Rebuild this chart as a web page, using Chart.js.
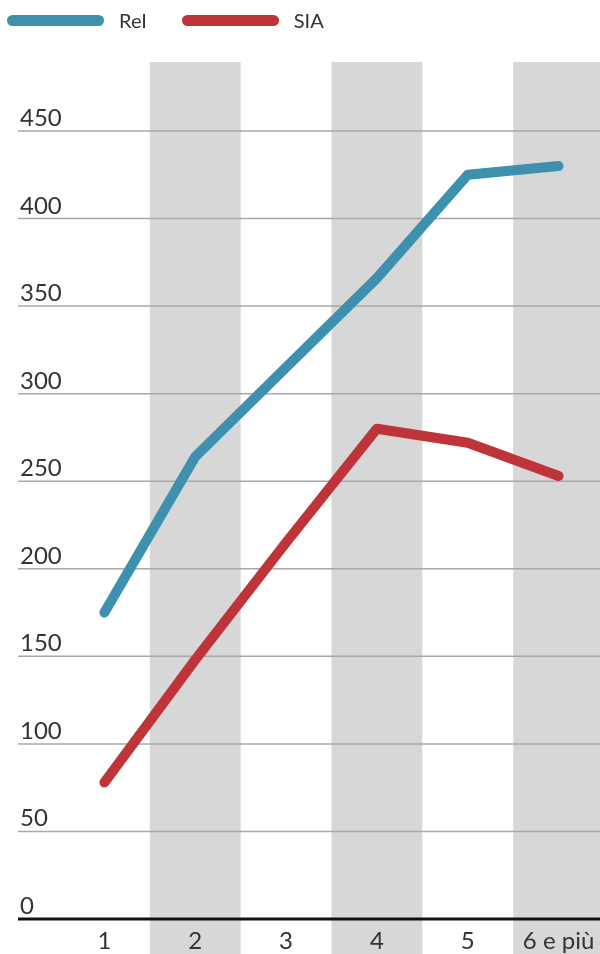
<!DOCTYPE html>
<html>
<head>
<meta charset="utf-8">
<script src="https://cdn.jsdelivr.net/npm/chart.js@4"></script>
<style>
  html, body { margin: 0; padding: 0; background: #fff; overflow: hidden; }
  #wrap { position: relative; width: 600px; height: 954px; overflow: hidden; }
  #chart { position: absolute; left: 0; top: 0; }
  #legend { position: absolute; left: 7px; top: 8px; display: flex; font-family: Lato, "Open Sans", sans-serif; font-size: 20px; color: #333; }
  #legend .item { display: flex; align-items: center; margin-right: 35px; }
  #legend .bar { width: 97px; height: 11px; border-radius: 6px; margin-right: 15px; }
</style>
</head>
<body>
<div id="wrap">
  <canvas id="chart" width="606" height="954"></canvas>
  <div id="legend"></div>
</div>
<script>
const categories = ["1", "2", "3", "4", "5", "6 e più"];
const seriesNames = ["ReI", "SIA"];
const reiValues = [175, 264, 315, 366, 425, 430];
const siaValues = [78, 148, 215, 280, 272, 253];
const yTicks = [0, 50, 100, 150, 200, 250, 300, 350, 400, 450];
const colors = ["#3d90ae", "#bf3438"];

// legend
const legend = document.getElementById("legend");
seriesNames.forEach((name, i) => {
  const item = document.createElement("div");
  item.className = "item";
  const bar = document.createElement("div");
  bar.className = "bar";
  bar.style.background = colors[i];
  const txt = document.createElement("span");
  txt.textContent = name;
  item.appendChild(bar);
  item.appendChild(txt);
  legend.appendChild(item);
});

const backdrop = {
  id: "backdrop",
  beforeDraw(chart) {
    const ctx = chart.ctx;
    const x = chart.scales.x, y = chart.scales.y;
    const half = (x.getPixelForValue(1) - x.getPixelForValue(0)) / 2;
    ctx.save();
    // grey bands on every other column
    ctx.fillStyle = "#d7d7d7";
    categories.forEach((c, i) => {
      if (i % 2 === 1) {
        const cx = x.getPixelForValue(i);
        ctx.fillRect(cx - half, 62, half * 2, chart.height - 62);
      }
    });
    // gridlines + labels
    ctx.font = "24px Lato, 'Open Sans', sans-serif";
    ctx.textAlign = "left";
    ctx.textBaseline = "alphabetic";
    yTicks.forEach(v => {
      const py = y.getPixelForValue(v);
      if (v !== 0) {
        ctx.strokeStyle = "#a8a8a8";
        ctx.lineWidth = 1.5;
        ctx.beginPath();
        ctx.moveTo(18, py);
        ctx.lineTo(chart.width, py);
        ctx.stroke();
      }
      ctx.fillStyle = "#333";
      ctx.fillText(String(v), 20, py - 5);
    });
    // base axis
    const py0 = y.getPixelForValue(0);
    ctx.strokeStyle = "#111";
    ctx.lineWidth = 3;
    ctx.beginPath();
    ctx.moveTo(18, py0);
    ctx.lineTo(chart.width, py0);
    ctx.stroke();
    ctx.restore();
  }
};

new Chart(document.getElementById("chart"), {
  type: "line",
  data: {
    labels: categories,
    datasets: [
      {
        label: seriesNames[0],
        data: reiValues,
        borderColor: colors[0],
        backgroundColor: colors[0],
        borderWidth: 10,
        borderCapStyle: "round",
        borderJoinStyle: "round",
        pointRadius: 0,
        tension: 0,
        clip: false
      },
      {
        label: seriesNames[1],
        data: siaValues,
        borderColor: colors[1],
        backgroundColor: colors[1],
        borderWidth: 10,
        borderCapStyle: "round",
        borderJoinStyle: "round",
        pointRadius: 0,
        tension: 0,
        clip: false
      }
    ]
  },
  options: {
    responsive: false,
    animation: false,
    layout: { padding: { left: 59, right: 2, top: 131, bottom: 1 } },
    plugins: {
      legend: { display: false },
      tooltip: { enabled: false }
    },
    scales: {
      x: {
        offset: true,
        grid: { display: false, drawTicks: false },
        border: { display: false },
        afterFit(scale) { scale.height = 34; },
        ticks: {
          color: "#333",
          padding: 10,
          font: { family: "Lato, 'Open Sans', sans-serif", size: 24, lineHeight: 1 },
          maxRotation: 0
        }
      },
      y: {
        display: false,
        min: 0,
        max: 450
      }
    }
  },
  plugins: [backdrop]
});
</script>
</body>
</html>
